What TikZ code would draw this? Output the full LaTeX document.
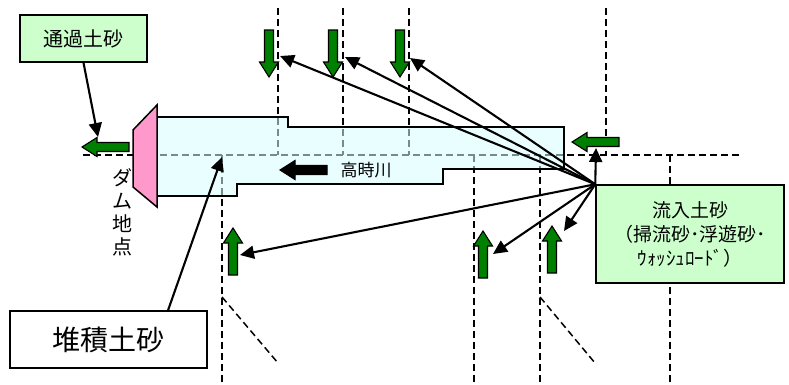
\documentclass[tikz,border=0pt]{standalone}
\usepackage{fontspec}
\setmainfont{Noto Sans CJK JP}
\usepackage{tikz}
\usetikzlibrary{arrows.meta,calc}
\definecolor{sandgreen}{RGB}{0,128,0}
\definecolor{boxgreen}{RGB}{204,255,204}
\definecolor{riverblue}{RGB}{215,255,255}
\definecolor{dampink}{RGB}{255,153,204}
\tikzstyle{guide}=[dash pattern=on 7pt off 4pt, line width=1.5pt]
\tikzstyle{flow}=[-{Triangle[length=14pt,width=13pt]}, line width=2.1pt]
\tikzstyle{tagbox}=[draw, line width=1.5pt, fill=boxgreen, inner sep=0pt, align=center]
\tikzstyle{garrow}=[fill=sandgreen, draw=black, line width=1.1pt]
\tikzset{
  blockarrow/.pic={\draw[pic actions] (0,-4.5) -- (32,-4.5) -- (32,-9.5) -- (47,0) -- (32,9.5) -- (32,4.5) -- (0,4.5) -- cycle;}
}

\begin{document}
\begin{tikzpicture}[x=1pt,y=-1pt]
        \useasboundingbox (0,0) rectangle (789,384);
        % section lines
        \draw[guide] (278,8) -- (278,155);
        \draw[guide] (343,8) -- (343,155);
        \draw[guide] (409,8) -- (409,155);
        \draw[guide] (606,8) -- (606,155);
        \draw[guide] (83,155) -- (740,155);
        \draw[guide] (222,155) -- (222,384);
        \draw[guide] (474,155) -- (474,384);
        \draw[guide] (540,155) -- (540,384);
        \draw[guide] (670,155) -- (670,384);
        \draw[guide] (222,297) -- (278,363);
        \draw[guide] (540,297) -- (595,363);

        % reservoir
        \draw[line width=1.5pt, fill=riverblue, fill opacity=0.55] (157,117) -- (288,117) -- (288,127) -- (564,127) -- (564,169) -- (443,169) -- (443,184) -- (237,184) -- (237,196) -- (157,196) -- cycle;
        % dam
        \draw[line width=1.5pt, fill=dampink] (157,105) -- (157,207) -- (133,187) -- (133,130) -- cycle;

        % sediment arrows
        \pic[garrow, rotate=-90] at (269,30) {blockarrow};
        \pic[garrow, rotate=-90] at (333,30) {blockarrow};
        \pic[garrow, rotate=-90] at (400,30) {blockarrow};
        \pic[garrow, rotate=180] at (129,147) {blockarrow};
        \pic[garrow, rotate=180] at (619,142) {blockarrow};
        \pic[garrow, rotate=90] at (233,275) {blockarrow};
        \pic[garrow, rotate=90] at (483,278) {blockarrow};
        \pic[garrow, rotate=90] at (552,273) {blockarrow};
        % river direction
        \pic[fill=black, draw=black, line width=1.1pt, rotate=180] at (327,170) {blockarrow};
        \node[font=\fontsize{17}{20}\selectfont] (rivername) at (366,170) {高時川};
        \node[align=center, font=\fontsize{20}{23}\selectfont] (damname) at (122,212) {ダ\\ム\\地\\点};

        % boxes
        \node[tagbox, minimum width=127pt, minimum height=47pt, font=\fontsize{20}{24}\selectfont] (passed) at (83.5,38.5) {通過土砂};
        \node[tagbox, fill=white, minimum width=197pt, minimum height=57pt, font=\fontsize{28}{32}\selectfont] (deposit) at (108.5,339.5) {堆積土砂};
        \node[tagbox, minimum width=188pt, minimum height=98pt, font=\fontsize{19}{24}\selectfont] (inflow) at (690,234) {流入土砂\\（掃流砂･浮遊砂･\\ｳｫｯｼｭﾛｰﾄﾞ）};

        % arrow ends
        \coordinate (passtip) at (98,137);
        \coordinate (deptip) at (222,157);
        \coordinate (tipA) at (280,56);
        \coordinate (tipB) at (345,57);
        \coordinate (tipC) at (410,58);
        \coordinate (tipD) at (596,148);
        \coordinate (tipE) at (240,255);
        \coordinate (tipF) at (493,254);
        \coordinate (tipG) at (564,231);

        \draw[flow] (passed.south) -- (passtip);
        \draw[flow] ($(deposit.north west)!0.8!(deposit.north east)$) -- (deptip);
        \draw[flow] (inflow.north west) -- (tipA);
        \draw[flow] (inflow.north west) -- (tipB);
        \draw[flow] (inflow.north west) -- (tipC);
        \draw[flow] (inflow.north west) -- (tipD);
        \draw[flow] (inflow.north west) -- (tipE);
        \draw[flow] (inflow.north west) -- (tipF);
        \draw[flow] (inflow.north west) -- (tipG);
    \end{tikzpicture}
\end{document}
